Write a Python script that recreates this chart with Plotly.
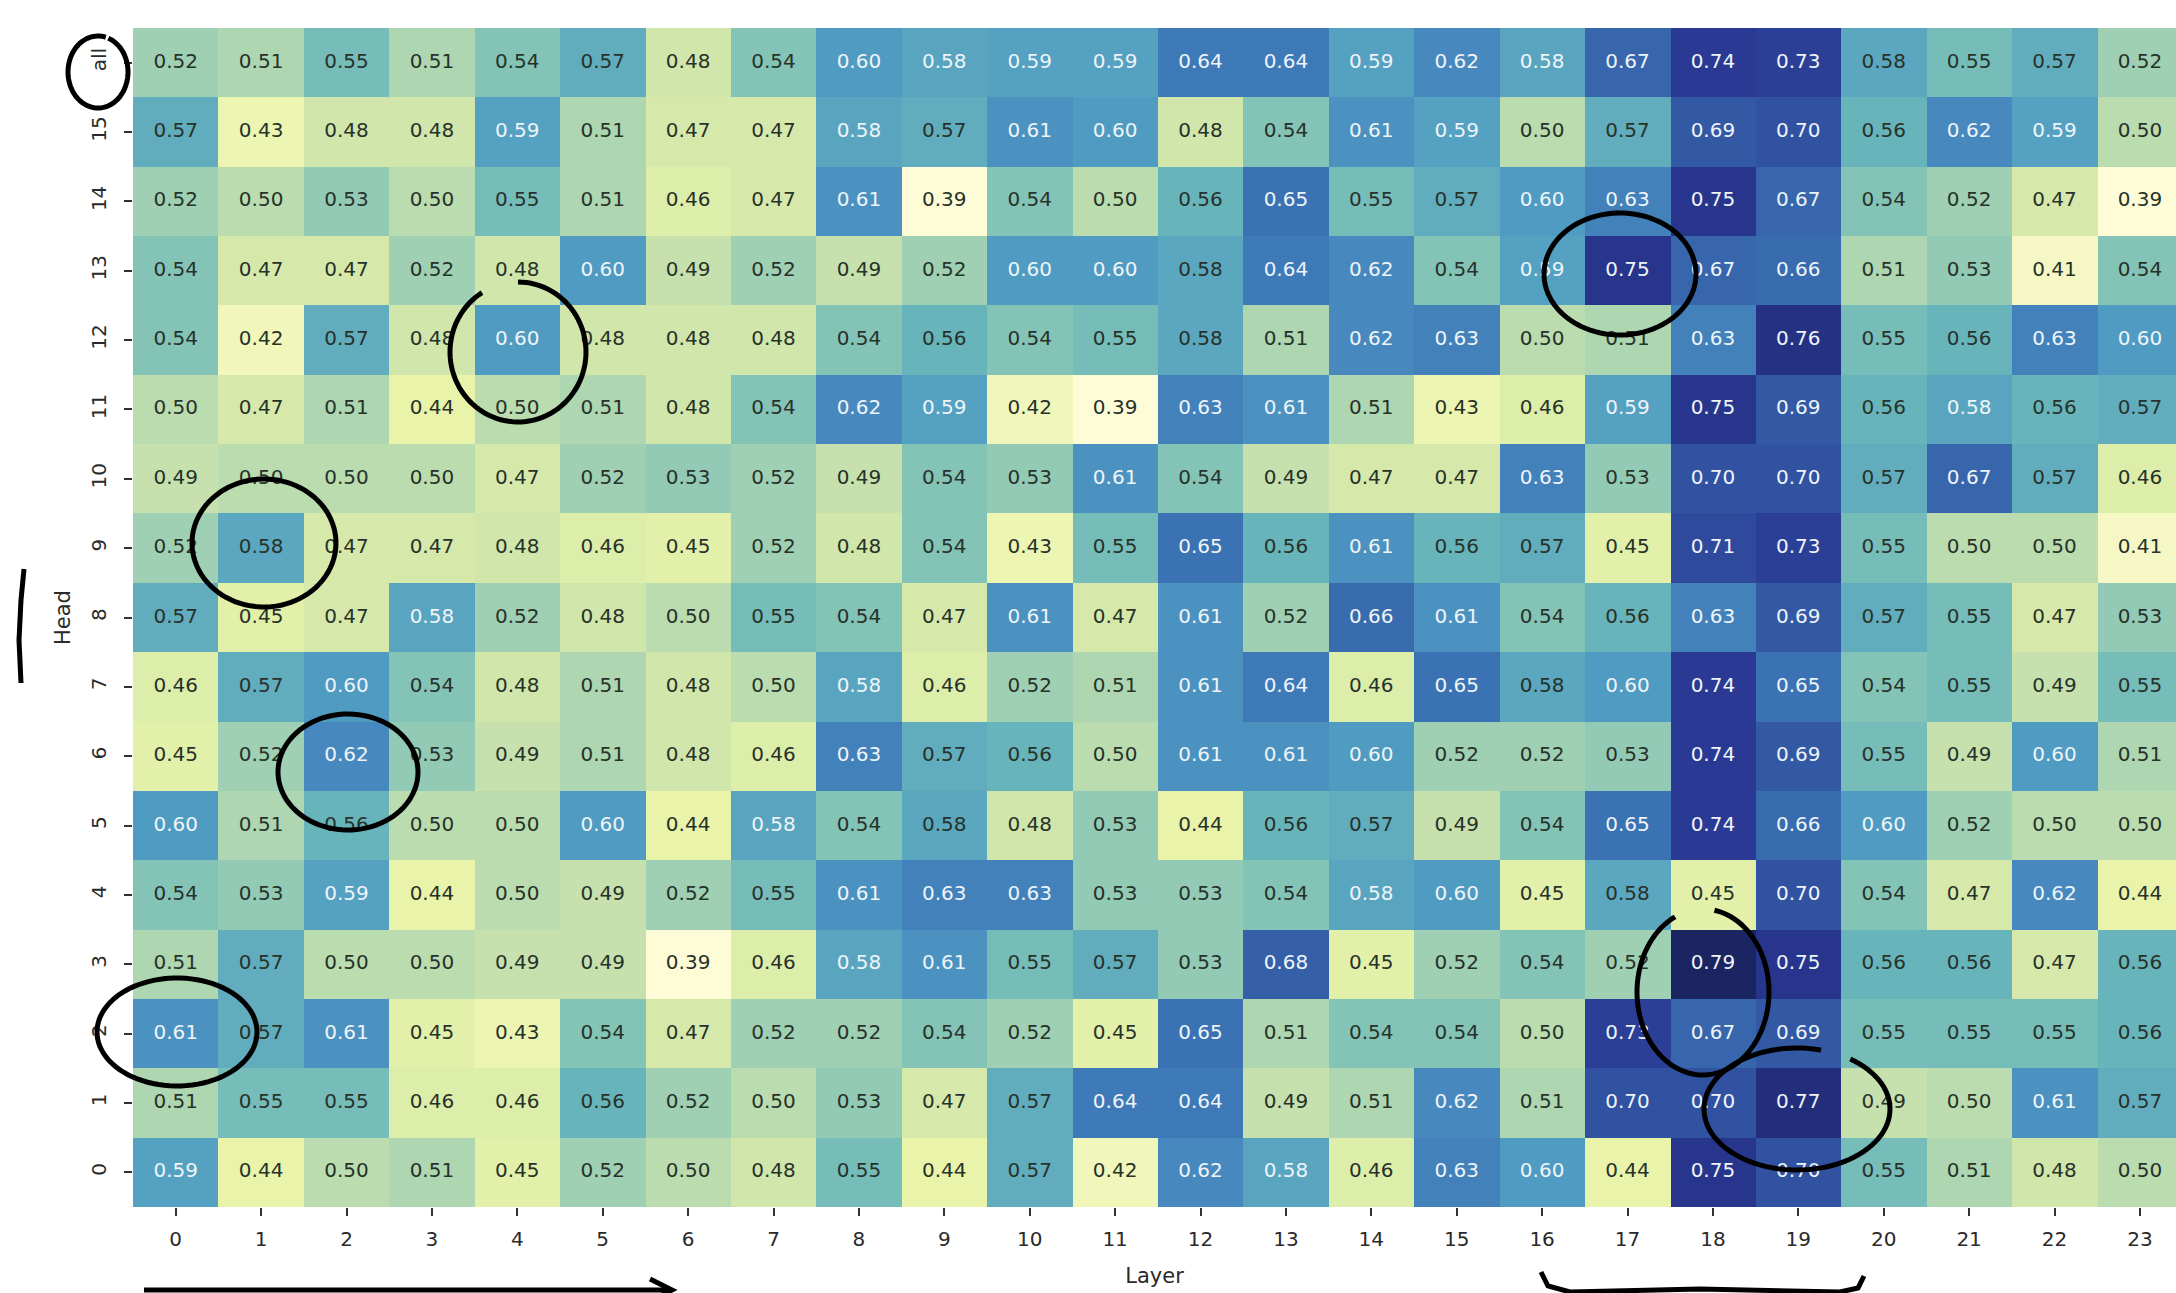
import numpy as np
import plotly.graph_objects as go

# ---------------- data ----------------
layers = list(range(24))
head_labels = [str(i) for i in range(16)] + ["all"]

row_all = [0.52, 0.51, 0.55, 0.51, 0.54, 0.57, 0.48, 0.54, 0.60, 0.582, 0.59, 0.59, 0.64, 0.64, 0.59, 0.62, 0.582, 0.67, 0.74, 0.73, 0.578, 0.55, 0.57, 0.52]
row_15 = [0.57, 0.43, 0.48, 0.48, 0.59, 0.51, 0.47, 0.47, 0.582, 0.57, 0.61, 0.60, 0.48, 0.54, 0.61, 0.59, 0.50, 0.57, 0.69, 0.70, 0.56, 0.62, 0.59, 0.50]
row_14 = [0.52, 0.50, 0.53, 0.50, 0.55, 0.51, 0.46, 0.47, 0.61, 0.39, 0.54, 0.50, 0.56, 0.65, 0.55, 0.57, 0.60, 0.63, 0.75, 0.67, 0.54, 0.52, 0.47, 0.39]
row_13 = [0.54, 0.47, 0.47, 0.52, 0.48, 0.60, 0.49, 0.52, 0.49, 0.52, 0.60, 0.60, 0.578, 0.64, 0.62, 0.54, 0.59, 0.75, 0.67, 0.66, 0.51, 0.53, 0.41, 0.54]
row_12 = [0.54, 0.42, 0.57, 0.48, 0.60, 0.48, 0.48, 0.48, 0.54, 0.56, 0.54, 0.55, 0.578, 0.51, 0.62, 0.63, 0.50, 0.51, 0.63, 0.76, 0.55, 0.56, 0.63, 0.60]
row_11 = [0.50, 0.47, 0.51, 0.44, 0.50, 0.51, 0.48, 0.54, 0.62, 0.59, 0.42, 0.39, 0.63, 0.61, 0.51, 0.43, 0.46, 0.59, 0.75, 0.69, 0.56, 0.582, 0.56, 0.57]
row_10 = [0.49, 0.50, 0.50, 0.50, 0.47, 0.52, 0.53, 0.52, 0.49, 0.54, 0.53, 0.61, 0.54, 0.49, 0.47, 0.47, 0.63, 0.53, 0.70, 0.70, 0.57, 0.67, 0.57, 0.46]
row_9 = [0.52, 0.578, 0.47, 0.47, 0.48, 0.46, 0.45, 0.52, 0.48, 0.54, 0.43, 0.55, 0.65, 0.56, 0.61, 0.56, 0.57, 0.45, 0.71, 0.73, 0.55, 0.50, 0.50, 0.41]
row_8 = [0.57, 0.45, 0.47, 0.582, 0.52, 0.48, 0.50, 0.55, 0.54, 0.47, 0.61, 0.47, 0.61, 0.52, 0.66, 0.61, 0.54, 0.56, 0.63, 0.69, 0.57, 0.55, 0.47, 0.53]
row_7 = [0.46, 0.57, 0.60, 0.54, 0.48, 0.51, 0.48, 0.50, 0.582, 0.46, 0.52, 0.51, 0.61, 0.64, 0.46, 0.65, 0.578, 0.60, 0.74, 0.65, 0.54, 0.55, 0.49, 0.55]
row_6 = [0.45, 0.52, 0.62, 0.53, 0.49, 0.51, 0.48, 0.46, 0.63, 0.57, 0.56, 0.50, 0.61, 0.61, 0.60, 0.52, 0.52, 0.53, 0.74, 0.69, 0.55, 0.49, 0.60, 0.51]
row_5 = [0.60, 0.51, 0.56, 0.50, 0.50, 0.60, 0.44, 0.582, 0.54, 0.578, 0.48, 0.53, 0.44, 0.56, 0.57, 0.49, 0.54, 0.65, 0.74, 0.66, 0.60, 0.52, 0.50, 0.50]
row_4 = [0.54, 0.53, 0.59, 0.44, 0.50, 0.49, 0.52, 0.55, 0.61, 0.63, 0.63, 0.53, 0.53, 0.54, 0.582, 0.60, 0.45, 0.578, 0.45, 0.70, 0.54, 0.47, 0.62, 0.44]
row_3 = [0.51, 0.57, 0.50, 0.50, 0.49, 0.49, 0.39, 0.46, 0.582, 0.61, 0.55, 0.57, 0.53, 0.68, 0.45, 0.52, 0.54, 0.52, 0.79, 0.75, 0.56, 0.56, 0.47, 0.56]
row_2 = [0.61, 0.57, 0.61, 0.45, 0.43, 0.54, 0.47, 0.52, 0.52, 0.54, 0.52, 0.45, 0.65, 0.51, 0.54, 0.54, 0.50, 0.73, 0.67, 0.69, 0.55, 0.55, 0.55, 0.56]
row_1 = [0.51, 0.55, 0.55, 0.46, 0.46, 0.56, 0.52, 0.50, 0.53, 0.47, 0.57, 0.64, 0.64, 0.49, 0.51, 0.62, 0.51, 0.70, 0.70, 0.77, 0.49, 0.50, 0.61, 0.57]
row_0 = [0.59, 0.44, 0.50, 0.51, 0.45, 0.52, 0.50, 0.48, 0.55, 0.44, 0.57, 0.42, 0.62, 0.582, 0.46, 0.63, 0.60, 0.44, 0.75, 0.70, 0.55, 0.51, 0.48, 0.50]

rows = [row_0, row_1, row_2, row_3, row_4, row_5, row_6, row_7, row_8,
        row_9, row_10, row_11, row_12, row_13, row_14, row_15, row_all]

# ---------------- style ----------------
VMIN, VMAX = 0.39, 0.79
stops = [
    (0.39, "#fdfcd7"), (0.44, "#e9f3a9"), (0.48, "#d0e6ab"), (0.50, "#bbdcaf"),
    (0.52, "#9fd0b3"), (0.54, "#84c4b6"), (0.56, "#68b4bb"), (0.58, "#5aa6c0"),
    (0.60, "#4f9bc2"), (0.62, "#4789be"), (0.65, "#3a72b3"), (0.68, "#3560a8"),
    (0.71, "#2f4a9d"), (0.74, "#2a3a94"), (0.77, "#222e7c"), (0.79, "#1a2562"),
]
colorscale = [[(v - VMIN) / (VMAX - VMIN), c] for v, c in stops]

FONT = "DejaVu Sans"
DARK_TXT = "#27322a"
LIGHT_TXT = "#eef4f8"

W, H = 2176, 1293
ML, MR, MT, MB = 133, 0, 28, 86
PW, PH = W - ML - MR, H - MT - MB
cell_w = 85.4

z = np.array(rows)
xs, ys, txt, cols = [], [], [], []
for r, row in enumerate(rows):
    for c, v in enumerate(row):
        xs.append(layers[c])
        ys.append(r)
        txt.append(f"{v:.2f}")
        cols.append(LIGHT_TXT if v >= 0.58 else DARK_TXT)

fig = go.Figure()
fig.add_trace(go.Heatmap(
    z=z, x=layers, y=list(range(len(head_labels))),
    colorscale=colorscale, zmin=VMIN, zmax=VMAX,
    showscale=False, hoverinfo="skip",
))
fig.add_trace(go.Scatter(
    x=xs, y=ys, text=txt, mode="text",
    textfont=dict(family=FONT, size=20, color=cols),
    hoverinfo="skip", showlegend=False,
))

# ---------------- hand-drawn marks (pixel positions -> paper) ----------------
def px(x):
    return (x - ML) / PW

def py(y):
    return (H - MB - y) / PH

def ellipse_path(cx, cy, rx, ry, a0=-90, a1=270):
    t = np.radians(np.linspace(a0, a1, 90))
    pts = [(px(cx + rx * np.cos(a)), py(cy + ry * np.sin(a))) for a in t]
    return "M " + " L ".join(f"{a:.5f},{b:.5f}" for a, b in pts)

def poly_path(points):
    return "M " + " L ".join(f"{px(a):.5f},{py(b):.5f}" for a, b in points)

ink = dict(color="black", width=5)
marks = [
    ellipse_path(98, 72, 30, 36, -70, 285),
    ellipse_path(518, 352, 68, 70, -90, 238),
    ellipse_path(264, 543, 72, 64, -100, 265),
    ellipse_path(348, 772, 70, 58, -110, 255),
    ellipse_path(177, 1032, 80, 54, -100, 262),
    ellipse_path(1620, 274, 76, 61, -95, 268),
    ellipse_path(1703, 992, 66, 83, -80, 245),
    ellipse_path(1797, 1109, 93, 61, -55, 285),
    poly_path([(24, 569), (21, 600), (19, 640), (21, 683)]),
    poly_path([(144, 1290), (670, 1290)]),
    poly_path([(650, 1279), (672, 1290), (650, 1301)]),
    poly_path([(1541, 1272), (1548, 1286), (1570, 1292), (1700, 1289), (1840, 1292), (1858, 1288), (1864, 1276)]),
]
shapes = [dict(type="path", xref="paper", yref="paper", path=p, line=ink, layer="above")
          for p in marks]

fig.update_layout(
    width=W, height=H,
    margin=dict(l=ML, r=MR, t=MT, b=MB, pad=0),
    paper_bgcolor="white", plot_bgcolor="white",
    font=dict(family=FONT, size=20, color="#2a2a2a"),
    showlegend=False,
    shapes=shapes,
    xaxis=dict(
        range=[-0.5, -0.5 + PW / cell_w], tickvals=layers,
        ticktext=[str(l) for l in layers],
        ticks="outside", ticklen=8, tickwidth=1.5, tickcolor="#333",
        showgrid=False, zeroline=False, showline=False,
        tickfont=dict(size=20), ticklabelstandoff=6,
        title=dict(text="Layer", font=dict(size=21), standoff=18),
        automargin=False,
    ),
    yaxis=dict(
        range=[-0.5, 16.5], tickvals=list(range(len(head_labels))),
        ticktext=head_labels, tickangle=-90,
        ticks="outside", ticklen=8, tickwidth=1.5, tickcolor="#333",
        showgrid=False, zeroline=False, showline=False,
        tickfont=dict(size=20), ticklabelstandoff=10,
        title=dict(text="Head", font=dict(size=21), standoff=10),
        automargin=False,
    ),
)

fig.write_html("out.html", config={"displayModeBar": False},
               post_script="document.body.style.margin='0';document.body.style.overflow='hidden';")
